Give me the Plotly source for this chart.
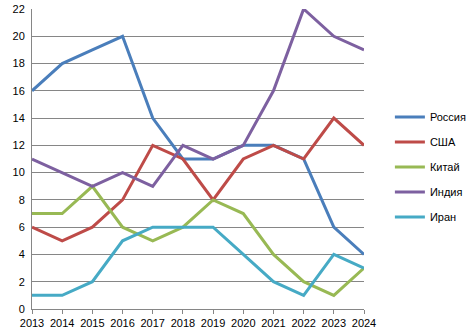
import plotly.graph_objects as go

years = list(range(2013, 2025))
names = ["Россия", "США", "Китай", "Индия", "Иран"]
russia = [16, 18, 19, 20, 14, 11, 11, 12, 12, 11, 6, 4]
usa = [6, 5, 6, 8, 12, 11, 8, 11, 12, 11, 14, 12]
china = [7, 7, 9, 6, 5, 6, 8, 7, 4, 2, 1, 3]
india = [11, 10, 9, 10, 9, 12, 11, 12, 16, 22, 20, 19]
iran = [1, 1, 2, 5, 6, 6, 6, 4, 2, 1, 4, 3]
series = [russia, usa, china, india, iran]
colors = ["#4A7EBB", "#BE4B48", "#98B954", "#7D60A0", "#46AAC5"]

fig = go.Figure()
for i, (n, s, c) in enumerate(zip(names, series, colors)):
    fig.add_trace(go.Scatter(x=years, y=s, name=n, mode="lines",
                             line=dict(color=c, width=3), legendgroup=str(i)))

font = "Liberation Sans"
fig.update_layout(
    width=468, height=330,
    margin=dict(l=32, r=104, t=9, b=21, autoexpand=False),
    paper_bgcolor="white", plot_bgcolor="white",
    font=dict(family=font, size=11, color="black"),
    showlegend=True,
    legend=dict(x=1.078, y=0.473, xanchor="left", yanchor="middle",
                traceorder="grouped", tracegroupgap=6,
                font=dict(size=11), itemwidth=30, bgcolor="rgba(0,0,0,0)"),
    xaxis=dict(range=[2013, 2024], tickmode="array", tickvals=years,
               ticktext=[str(y) for y in years], showgrid=False,
               showline=True, linecolor="#868686", linewidth=1,
               ticks="outside", ticklen=4, tickcolor="#868686",
               tickangle=0, zeroline=False, tickfont=dict(size=11),
               automargin=False),
    yaxis=dict(range=[0, 22], tickvals=list(range(0, 23, 2)), showgrid=True,
               gridcolor="#868686", gridwidth=1, showline=True,
               linecolor="#868686", linewidth=1, zeroline=False,
               ticks="", ticklabelstandoff=4, tickfont=dict(size=11),
               automargin=False),
)
fig.write_html("out.html")
